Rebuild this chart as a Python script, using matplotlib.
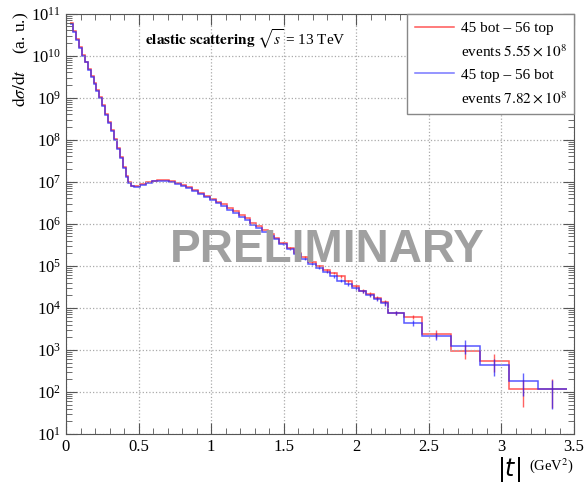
import numpy as np
import matplotlib
matplotlib.use("Agg")
import matplotlib.pyplot as plt
from matplotlib.lines import Line2D
from matplotlib.ticker import MultipleLocator, FuncFormatter, LogLocator, NullFormatter

plt.rcParams['font.family'] = ['Liberation Serif', 'DejaVu Serif']
plt.rcParams['mathtext.fontset'] = 'stix'

# bin edges in |t| (GeV^2)
edges = [0.03, 0.05, 0.07, 0.09, 0.11, 0.13, 0.15, 0.17, 0.19, 0.21, 0.23, 0.25, 0.27, 0.29, 0.31,
         0.33, 0.35, 0.37, 0.39, 0.41, 0.43, 0.45, 0.47,
         0.51, 0.55, 0.59, 0.63, 0.67, 0.71, 0.75, 0.79, 0.83, 0.87, 0.91, 0.95, 0.99, 1.03, 1.07,
         1.11, 1.15, 1.19, 1.23, 1.27, 1.31, 1.35, 1.39, 1.43, 1.47,
         1.52, 1.57, 1.62, 1.67, 1.72, 1.77, 1.82, 1.87, 1.92, 1.97, 2.02, 2.07, 2.12, 2.17, 2.22,
         2.33, 2.45, 2.65, 2.85, 3.05, 3.25, 3.45]

# log10 of dsigma/dt per bin, "45 top - 56 bot" (blue)
log_top = [10.75, 10.56, 10.37, 10.18, 10.00, 9.84, 9.67, 9.50, 9.33, 9.17, 9.00, 8.80, 8.60, 8.40,
           8.20, 8.00, 7.78, 7.56, 7.33, 7.12, 6.97, 6.90,
           6.88, 6.92, 6.97, 7.01, 7.03, 7.02, 6.99, 6.95, 6.90, 6.84, 6.77, 6.70, 6.63, 6.56, 6.49,
           6.42, 6.34, 6.26, 6.17, 6.08, 5.98, 5.90, 5.81, 5.71, 5.63,
           5.51, 5.39, 5.27, 5.16, 5.05, 4.95, 4.85, 4.75, 4.65, 4.56, 4.47, 4.39, 4.30, 4.21, 4.11,
           3.88, 3.64, 3.33, 3.10, 2.63, 2.25, 2.06]
# "45 bot - 56 top" (red)
log_bot = [10.77, 10.58, 10.39, 10.20, 10.02, 9.86, 9.69, 9.52, 9.35, 9.19, 9.02, 8.82, 8.62, 8.42,
           8.22, 8.02, 7.80, 7.58, 7.35, 7.14, 6.99, 6.91,
           6.89, 6.94, 6.99, 7.03, 7.05, 7.05, 7.02, 6.98, 6.93, 6.88, 6.81, 6.74, 6.67, 6.60, 6.53,
           6.46, 6.38, 6.30, 6.21, 6.13, 6.02, 5.94, 5.85, 5.75, 5.67,
           5.55, 5.43, 5.31, 5.21, 5.09, 4.99, 4.89, 4.83, 4.75, 4.63, 4.51, 4.41, 4.33, 4.23, 4.13,
           3.88, 3.78, 3.39, 2.98, 2.73, 2.08, 2.08]

# relative errors of the tail bins (from |t| = 1.47 on)
rel_err_top = [0.04, 0.04, 0.05, 0.05, 0.06, 0.06, 0.07, 0.07, 0.08, 0.08, 0.09, 0.10, 0.10, 0.11, 0.12,
               0.10, 0.15, 0.20, 0.35, 0.45, 0.55, 0.65]
rel_err_bot = [0.04, 0.04, 0.05, 0.05, 0.06, 0.06, 0.07, 0.07, 0.08, 0.08, 0.09, 0.10, 0.10, 0.11, 0.12,
               0.10, 0.12, 0.20, 0.35, 0.45, 0.63, 0.65]

edges = np.array(edges)
centers = 0.5 * (edges[1:] + edges[:-1])
val_top = 10 ** np.array(log_top)
val_bot = 10 ** np.array(log_bot)
n_tail = len(rel_err_top)

c_red = '#ff2020'
c_blue = '#2020ff'

fig = plt.figure(figsize=(5.84, 4.86), dpi=100)
ax = fig.add_axes([0.113, 0.107, 0.870, 0.865])

ax.stairs(val_bot, edges, baseline=None, color=c_red, alpha=0.75, lw=1.1)
ax.stairs(val_top, edges, baseline=None, color=c_blue, alpha=0.75, lw=1.1)
ax.errorbar(centers[-n_tail:], val_bot[-n_tail:], yerr=val_bot[-n_tail:] * np.array(rel_err_bot),
            fmt='none', ecolor=c_red, alpha=0.7, lw=1.0)
ax.errorbar(centers[-n_tail:], val_top[-n_tail:], yerr=val_top[-n_tail:] * np.array(rel_err_top),
            fmt='none', ecolor=c_blue, alpha=0.7, lw=1.0)

ax.set_yscale('log')
ax.set_xlim(0, 3.5)
ax.set_ylim(10, 1e11)
ax.xaxis.set_major_locator(MultipleLocator(0.5))
ax.xaxis.set_minor_locator(MultipleLocator(0.1))
ax.xaxis.set_major_formatter(FuncFormatter(lambda v, p: '%g' % v))
ax.yaxis.set_major_locator(LogLocator(base=10, numticks=20))
ax.yaxis.set_minor_locator(LogLocator(base=10, subs=np.arange(2, 10), numticks=20))
ax.yaxis.set_minor_formatter(NullFormatter())
ax.tick_params(which='both', direction='in', top=True, right=True, color='#555555', labelsize=12)
ax.tick_params(which='major', length=8)
ax.tick_params(which='minor', length=4)
for s in ax.spines.values():
    s.set_color('#555555')
ax.grid(True, which='major', ls=':', color='#aaaaaa', lw=0.9)

ax.text(0.155, 0.925, r'$\mathbf{elastic\ scattering}$ $\sqrt{s}$ = 13 TeV',
        transform=ax.transAxes, fontsize=11)

handles = [Line2D([], [], color=c_red, alpha=0.75, lw=1.1), Line2D([], [], color='none'),
           Line2D([], [], color=c_blue, alpha=0.6, lw=1.1), Line2D([], [], color='none')]
labels = ['45 bot – 56 top', r'events $5.55\times10^{8}$', '45 top – 56 bot', r'events $7.82\times10^{8}$']
leg = ax.legend(handles, labels, loc='upper right', borderaxespad=0, fancybox=False,
                edgecolor='#888888', framealpha=1, fontsize=11, handlelength=2.6,
                handletextpad=0.4, labelspacing=0.55, borderpad=0.5)
leg.get_frame().set_linewidth(1.0)

fig.text(0.56, 0.461, 'PRELIMINARY', family='Liberation Sans', weight='bold', fontsize=33,
         color='#a0a0a0', ha='center', va='baseline')

fig.text(0.035, 0.975, r'$\mathrm{d}\sigma/\mathrm{d}t$    (a. u.)', rotation=90,
         ha='center', va='top', fontsize=12.5)
fig.text(0.893, 0.004, r'$|t|$', fontsize=17, ha='right', va='bottom',
         math_fontfamily='dejavusans')
fig.text(0.905, 0.033, r'(GeV$^2$)', fontsize=10.5, ha='left', va='baseline')

fig.savefig('out.png', dpi=100)
